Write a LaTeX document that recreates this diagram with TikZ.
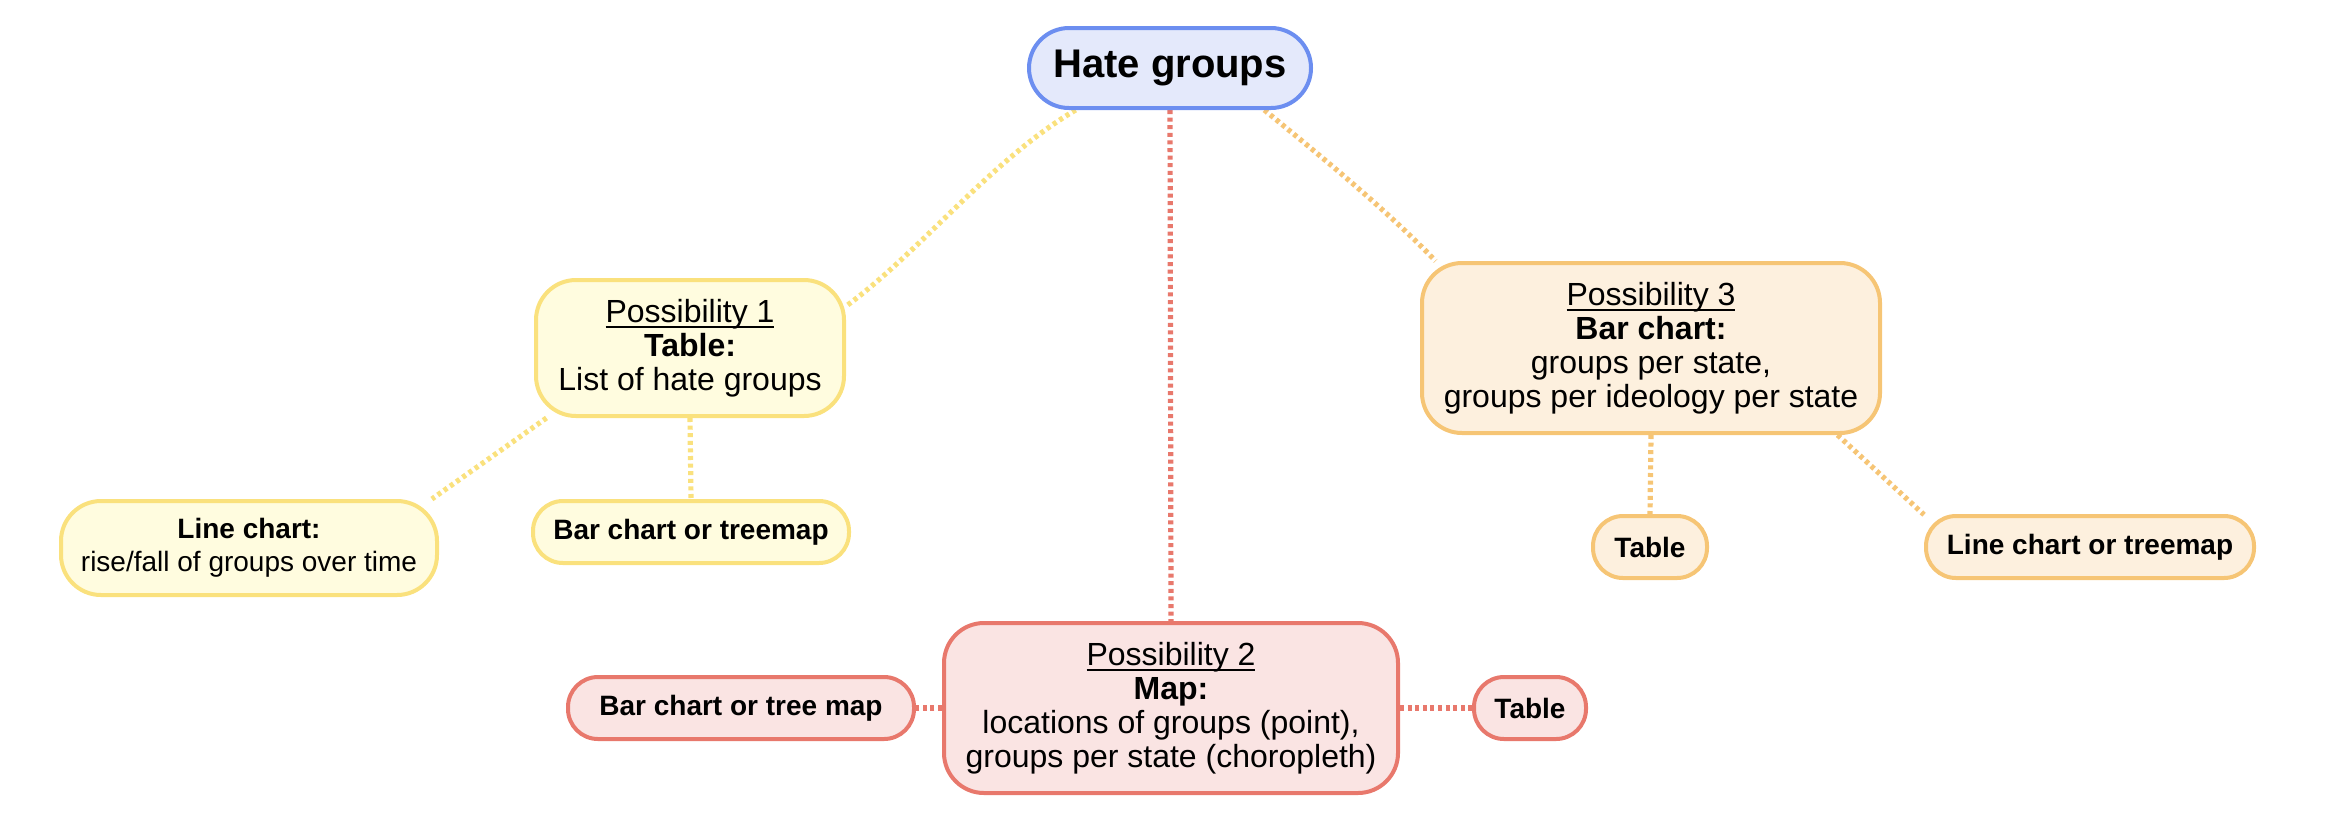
\documentclass[tikz,border=0pt]{standalone}
\usepackage{fontspec}
\setmainfont{Liberation Sans}
\usepackage{xcolor}
\usetikzlibrary{backgrounds}

\definecolor{blueline}{RGB}{108,142,240}
\definecolor{bluefill}{RGB}{228,233,251}
\definecolor{yellowline}{RGB}{250,225,125}
\definecolor{yellowfill}{RGB}{255,252,223}
\definecolor{orangeline}{RGB}{246,197,117}
\definecolor{orangefill}{RGB}{253,240,222}
\definecolor{redline}{RGB}{232,120,108}
\definecolor{redfill}{RGB}{250,228,227}

\newcommand{\possul}[1]{\setbox0\hbox{#1}\rlap{\raisebox{-2.9pt}{\rule{\wd0}{1.1pt}}}\box0}

\begin{document}
\begin{tikzpicture}[x=0.5pt,y=-0.5pt,
  box/.style={draw, line width=2pt, rounded corners=20pt, align=center, inner sep=0pt},
  bigtext/.style={font=\fontsize{16}{17}\selectfont},
  smalltext/.style={font=\bfseries\fontsize{14}{16.5}\selectfont},
  yellowbox/.style={box, draw=yellowline, fill=yellowfill},
  orangebox/.style={box, draw=orangeline, fill=orangefill},
  redbox/.style={box, draw=redline, fill=redfill},
  link/.style={line width=2.6pt, dash pattern=on 2pt off 1.8pt}]

\useasboundingbox (0,0) rectangle (2332,836);

% top
\node[box, draw=blueline, fill=bluefill, minimum width=141pt, minimum height=40pt,
  font=\bfseries\fontsize{20}{22}\selectfont] (hate) at (1170,68) {Hate groups};

% possibility 1
\node[yellowbox, bigtext, minimum width=154pt, minimum height=68pt] (poss1) at (690,348)
  {\possul{Possibility 1}\\ \textbf{Table:}\\ List of hate groups};
\node[yellowbox, smalltext, minimum width=188pt, minimum height=47pt] (linechart) at (249,548)
  {Line chart:\\ \mdseries rise/fall of groups over time};
\node[yellowbox, smalltext, rounded corners=15pt, minimum width=158pt, minimum height=31pt] (bartree1) at (691,532)
  {Bar chart or treemap};

% possibility 2
\node[redbox, bigtext, minimum width=227pt, minimum height=85pt] (poss2) at (1171,708)
  {\possul{Possibility 2}\\ \textbf{Map:}\\ locations of groups (point),\\ groups per state (choropleth)};
\node[redbox, smalltext, rounded corners=15pt, minimum width=173pt, minimum height=31pt] (bartree2) at (741,708)
  {Bar chart or tree map};
\node[redbox, smalltext, rounded corners=15pt, minimum width=56pt, minimum height=31pt] (table2) at (1530,708)
  {Table};

% possibility 3
\node[orangebox, bigtext, minimum width=229pt, minimum height=85pt] (poss3) at (1651,348)
  {\possul{Possibility 3}\\ \textbf{Bar chart:}\\ groups per state,\\ groups per ideology per state};
\node[orangebox, smalltext, rounded corners=15pt, minimum width=57pt, minimum height=31pt] (table3) at (1650,547)
  {Table};
\node[orangebox, smalltext, rounded corners=15pt, minimum width=164pt, minimum height=31pt] (linetree3) at (2090,547)
  {Line chart or treemap};

\begin{pgfonlayer}{background}
\draw[link, yellowline] (hate.204) .. controls +(-85,50) and +(75,-55) .. (poss1.15);
\draw[link, redline] (hate.south) -- (poss2.north);
\draw[link, orangeline] (hate.-24) .. controls +(55,45) and +(-50,-52) .. (poss3.158);

\draw[link, yellowline] (poss1.206) -- (linechart.15);
\draw[link, yellowline] (poss1.south) -- (bartree1.north);

\draw[link, redline] (poss2.west) -- (bartree2.east);
\draw[link, redline] (poss2.east) -- (table2.west);

\draw[link, orangeline] (poss3.south) -- (table3.north);
\draw[link, orangeline] (poss3.-25) -- (linetree3.169);
\end{pgfonlayer}
\end{tikzpicture}
\end{document}
